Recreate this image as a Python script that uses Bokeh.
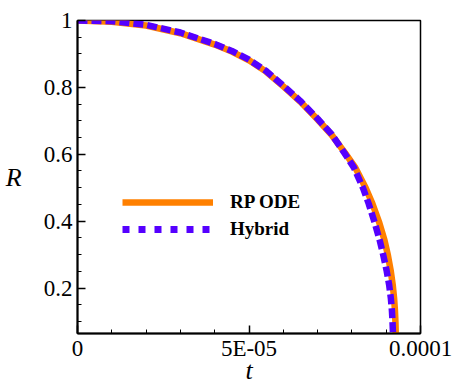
from bokeh.plotting import figure
from bokeh.models import Range1d, FixedTicker, CustomJSTickFormatter, Legend, LegendItem
from bokeh.embed import file_html
from bokeh.resources import INLINE

# ---- data (t in seconds) ----
t_rp = [0.0, 1.0e-5, 2.0e-5, 3.0e-5, 4.0e-5, 4.5e-5, 5.0e-5, 5.5e-5, 6.0e-5, 6.5e-5,
        7.0e-5, 7.4e-5, 7.8e-5, 8.1e-5, 8.4e-5, 8.6e-5, 8.8e-5, 8.95e-5, 9.05e-5, 9.13e-5,
        9.19e-5, 9.23e-5, 9.255e-5, 9.27e-5, 9.28e-5]
R_rp = [1.0, 0.996, 0.985, 0.962, 0.928, 0.907, 0.881, 0.847, 0.803, 0.757,
        0.704, 0.659, 0.604, 0.560, 0.500, 0.452, 0.395, 0.343, 0.298, 0.253,
        0.210, 0.170, 0.132, 0.097, 0.057]

t_hy = [0.0, 1.0e-5, 2.0e-5, 3.0e-5, 4.0e-5, 4.5e-5, 5.0e-5, 5.5e-5, 6.0e-5, 6.5e-5,
        7.0e-5, 7.4e-5, 7.78e-5, 8.06e-5, 8.32e-5, 8.49e-5, 8.665e-5, 8.81e-5, 8.915e-5, 9.01e-5,
        9.085e-5, 9.135e-5, 9.167e-5, 9.185e-5, 9.2e-5]
R_hy = [1.0, 0.998, 0.987, 0.964, 0.930, 0.909, 0.883, 0.849, 0.805, 0.759,
        0.706, 0.661, 0.604, 0.560, 0.500, 0.452, 0.395, 0.343, 0.298, 0.253,
        0.210, 0.170, 0.132, 0.097, 0.057]

x_ticks = [0.0, 5e-5, 1e-4]
x_tick_labels = ["0", "5E-05", "0.0001"]
x_minor = [1e-5, 2e-5, 3e-5, 4e-5, 6e-5, 7e-5, 8e-5, 9e-5]
y_ticks = [0.2, 0.4, 0.6, 0.8, 1.0]
y_tick_labels = ["0.2", "0.4", "0.6", "0.8", "1"]
y_minor = [0.1, 0.15, 0.25, 0.3, 0.35, 0.45, 0.5, 0.55, 0.65, 0.7, 0.75, 0.85, 0.9, 0.95]
series_names = ["RP ODE", "Hybrid"]
x_title = "t"
y_title = "R"

ORANGE = "#ff8000"
BLUE = "#5500ff"
FONT = "Liberation Serif"

p = figure(width=454, height=388, output_backend="svg", toolbar_location=None,
           x_range=Range1d(0, 1e-4), y_range=Range1d(0.064, 1.0),
           min_border_left=77, min_border_right=34, min_border_top=20, min_border_bottom=55)

p.xgrid.visible = False
p.ygrid.visible = False
p.outline_line_color = "black"
p.outline_line_width = 1.5
p.outline_line_alpha = 1.0
p.background_fill_color = "white"
p.border_fill_color = "white"

fmt_js = """
for (let i = 0; i < vals.length; i++) {
  if (Math.abs(vals[i] - tick) < 1e-12) return labels[i];
}
return "";
"""

p.xaxis.ticker = FixedTicker(ticks=x_ticks, minor_ticks=x_minor)
p.xaxis.formatter = CustomJSTickFormatter(args=dict(vals=x_ticks, labels=x_tick_labels), code=fmt_js)
p.yaxis.ticker = FixedTicker(ticks=y_ticks, minor_ticks=y_minor)
p.yaxis.formatter = CustomJSTickFormatter(args=dict(vals=y_ticks, labels=y_tick_labels), code=fmt_js)

for ax in (p.xaxis[0], p.yaxis[0]):
    ax.axis_line_color = "black"
    ax.axis_line_width = 2
    ax.major_tick_in = 8
    ax.major_tick_out = 0
    ax.minor_tick_in = 4
    ax.minor_tick_out = 0
    ax.major_tick_line_color = "black"
    ax.major_tick_line_width = 1.5
    ax.minor_tick_line_color = "black"
    ax.minor_tick_line_width = 1
    ax.major_label_text_font = FONT
    ax.major_label_text_font_size = "23px"
    ax.major_label_text_color = "black"
    ax.axis_label_text_font = FONT
    ax.axis_label_text_font_style = "italic"
    ax.axis_label_text_font_size = "26px"
    ax.axis_label_text_color = "black"
p.xaxis.major_label_standoff = 2
p.yaxis.major_label_standoff = 5
p.xaxis.axis_label = x_title
p.xaxis.axis_label_standoff = -8
p.yaxis.axis_label = y_title
p.yaxis.axis_label_orientation = "horizontal"
p.yaxis.axis_label_standoff = 19

# data lines
p.line(t_rp, R_rp, line_color=ORANGE, line_width=6.5, line_join="round")
p.line(t_hy, R_hy, line_color=BLUE, line_width=6.5, line_dash="10 4", line_join="round")

# legend proxies (same data, hidden; only their legend samples show)
lr1 = p.line(t_rp, R_rp, line_color=ORANGE, line_width=6.5, visible=False)
lr2 = p.line(t_hy, R_hy, line_color=BLUE, line_width=7, line_dash="7 9", line_cap="butt", visible=False)
legend = Legend(items=[LegendItem(label=series_names[0], renderers=[lr1]),
                       LegendItem(label=series_names[1], renderers=[lr2])],
                location=(45, 93), orientation="vertical", click_policy="none",
                border_line_alpha=0, background_fill_alpha=0, padding=0, margin=0,
                spacing=5, glyph_width=91, glyph_height=20, label_height=20, label_standoff=17,
                label_text_font=FONT, label_text_font_style="bold", label_text_font_size="19px",
                label_text_color="black")
p.add_layout(legend)

open("out.html", "w").write(file_html(p, INLINE))
